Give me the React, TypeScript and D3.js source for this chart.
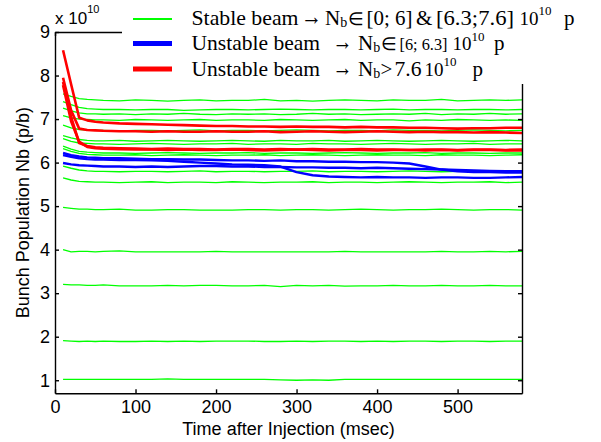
import { useEffect, useRef } from "react";
import * as d3 from "d3";

// sample times (msec after injection)
const times = [10, 20, 30, 40, 50, 60, 80, 100, 120, 140, 160, 180, 200, 220, 240, 260, 280, 300, 320, 340, 360, 380, 400, 420, 440, 460, 480, 500, 520, 540, 560, 580];

// stable beams (green), bunch population in 1e10 p
const stableRuns = [
  [7.58, 7.52, 7.47, 7.45, 7.44, 7.43, 7.42, 7.44, 7.43, 7.41, 7.43, 7.44, 7.42, 7.43, 7.43, 7.45, 7.42, 7.43, 7.41, 7.43, 7.44, 7.43, 7.42, 7.44, 7.43, 7.43, 7.45, 7.42, 7.43, 7.44, 7.43, 7.44],
  [7.40, 7.33, 7.27, 7.24, 7.23, 7.22, 7.22, 7.21, 7.22, 7.22, 7.20, 7.21, 7.22, 7.22, 7.21, 7.22, 7.23, 7.22, 7.21, 7.22, 7.22, 7.21, 7.22, 7.23, 7.21, 7.22, 7.22, 7.21, 7.22, 7.22, 7.21, 7.22],
  [7.25, 7.19, 7.14, 7.12, 7.12, 7.11, 7.12, 7.10, 7.12, 7.11, 7.13, 7.11, 7.10, 7.12, 7.11, 7.12, 7.10, 7.11, 7.13, 7.11, 7.12, 7.10, 7.11, 7.12, 7.11, 7.13, 7.10, 7.12, 7.11, 7.13, 7.11, 7.12],
  [7.08, 7.03, 7.00, 6.99, 6.98, 6.98, 6.97, 6.99, 6.98, 6.97, 6.98, 6.99, 6.97, 6.98, 6.98, 6.97, 6.99, 6.98, 6.97, 6.98, 6.99, 6.97, 6.98, 6.98, 6.96, 6.98, 6.97, 6.99, 6.98, 6.97, 6.98, 6.97],
  [6.86, 6.80, 6.76, 6.75, 6.74, 6.74, 6.73, 6.74, 6.74, 6.73, 6.74, 6.75, 6.73, 6.74, 6.74, 6.73, 6.74, 6.75, 6.74, 6.73, 6.74, 6.74, 6.73, 6.75, 6.74, 6.74, 6.73, 6.74, 6.75, 6.74, 6.73, 6.74],
  [6.62, 6.57, 6.53, 6.51, 6.50, 6.50, 6.51, 6.49, 6.50, 6.51, 6.50, 6.49, 6.50, 6.51, 6.50, 6.49, 6.51, 6.50, 6.50, 6.51, 6.49, 6.50, 6.51, 6.50, 6.49, 6.50, 6.51, 6.50, 6.49, 6.50, 6.51, 6.50],
  [6.55, 6.49, 6.45, 6.44, 6.43, 6.43, 6.42, 6.43, 6.44, 6.43, 6.42, 6.43, 6.43, 6.44, 6.42, 6.43, 6.43, 6.42, 6.44, 6.43, 6.43, 6.42, 6.43, 6.44, 6.43, 6.42, 6.43, 6.43, 6.44, 6.42, 6.43, 6.43],
  [6.38, 6.31, 6.26, 6.24, 6.23, 6.22, 6.22, 6.21, 6.22, 6.23, 6.22, 6.21, 6.22, 6.22, 6.23, 6.21, 6.22, 6.22, 6.21, 6.22, 6.23, 6.22, 6.21, 6.22, 6.22, 6.23, 6.21, 6.22, 6.22, 6.21, 6.22, 6.22],
  [6.32, 6.26, 6.21, 6.19, 6.18, 6.17, 6.17, 6.18, 6.16, 6.17, 6.18, 6.17, 6.16, 6.17, 6.17, 6.18, 6.16, 6.17, 6.18, 6.17, 6.16, 6.17, 6.18, 6.17, 6.17, 6.16, 6.18, 6.17, 6.17, 6.16, 6.17, 6.18],
  [5.92, 5.87, 5.83, 5.81, 5.80, 5.80, 5.79, 5.80, 5.80, 5.79, 5.80, 5.81, 5.79, 5.80, 5.80, 5.79, 5.80, 5.80, 5.81, 5.79, 5.80, 5.80, 5.79, 5.80, 5.81, 5.80, 5.79, 5.80, 5.80, 5.79, 5.80, 5.80],
  [5.65, 5.60, 5.57, 5.56, 5.55, 5.55, 5.54, 5.55, 5.56, 5.54, 5.55, 5.55, 5.54, 5.56, 5.55, 5.54, 5.55, 5.55, 5.56, 5.54, 5.55, 5.55, 5.54, 5.55, 5.56, 5.55, 5.54, 5.55, 5.55, 5.56, 5.54, 5.55],
  [4.97, 4.95, 4.93, 4.93, 4.92, 4.92, 4.93, 4.91, 4.91, 4.92, 4.92, 4.91, 4.91, 4.91, 4.92, 4.92, 4.91, 4.92, 4.92, 4.91, 4.92, 4.93, 4.92, 4.91, 4.92, 4.92, 4.93, 4.92, 4.91, 4.92, 4.92, 4.91],
  [4.00, 3.95, 3.96, 3.96, 3.95, 3.96, 3.97, 3.95, 3.95, 3.95, 3.95, 3.95, 3.96, 3.95, 3.95, 3.95, 3.95, 3.95, 3.95, 3.95, 3.96, 3.95, 3.95, 3.95, 3.95, 3.95, 3.96, 3.95, 3.95, 3.96, 3.95, 3.96],
  [3.20, 3.19, 3.19, 3.18, 3.18, 3.19, 3.17, 3.17, 3.17, 3.18, 3.17, 3.18, 3.18, 3.17, 3.17, 3.18, 3.15, 3.18, 3.17, 3.18, 3.16, 3.17, 3.17, 3.18, 3.17, 3.17, 3.18, 3.17, 3.17, 3.18, 3.17, 3.17],
  [1.91, 1.90, 1.89, 1.90, 1.89, 1.90, 1.89, 1.89, 1.90, 1.89, 1.90, 1.89, 1.90, 1.90, 1.90, 1.89, 1.89, 1.90, 1.89, 1.90, 1.90, 1.89, 1.90, 1.89, 1.90, 1.90, 1.89, 1.90, 1.90, 1.89, 1.90, 1.90],
  [1.02, 1.02, 1.02, 1.02, 1.02, 1.02, 1.02, 1.02, 1.02, 1.03, 1.02, 1.02, 1.02, 1.02, 1.02, 1.02, 1.01, 1.00, 1.01, 1.00, 1.02, 1.02, 1.02, 1.02, 1.02, 1.02, 1.02, 1.02, 1.02, 1.02, 1.02, 1.02],
];

// unstable beams, Nb in [6; 6.3] (blue)
const unstableRuns = [
  [6.22, 6.17, 6.14, 6.12, 6.11, 6.10, 6.10, 6.09, 6.08, 6.08, 6.07, 6.07, 6.06, 6.05, 6.05, 6.04, 6.05, 6.03, 6.03, 6.02, 6.02, 6.01, 6.01, 6.00, 5.98, 5.91, 5.84, 5.80, 5.78, 5.78, 5.77, 5.77],
  [6.17, 6.13, 6.10, 6.08, 6.07, 6.07, 6.06, 6.06, 6.05, 6.04, 6.02, 6.00, 5.98, 5.96, 5.95, 5.94, 5.91, 5.78, 5.71, 5.68, 5.67, 5.66, 5.67, 5.66, 5.66, 5.65, 5.66, 5.66, 5.65, 5.65, 5.66, 5.67],
  [5.99, 5.96, 5.94, 5.93, 5.92, 5.91, 5.91, 5.90, 5.91, 5.90, 5.91, 5.92, 5.92, 5.91, 5.91, 5.90, 5.90, 5.89, 5.89, 5.88, 5.88, 5.87, 5.88, 5.87, 5.86, 5.85, 5.84, 5.83, 5.82, 5.81, 5.80, 5.80],
];

// unstable beams, Nb > 7.6 (red)
const highRuns = [
  [8.58, 7.80, 7.03, 6.97, 6.94, 6.92, 6.90, 6.89, 6.88, 6.87, 6.86, 6.85, 6.84, 6.84, 6.83, 6.83, 6.82, 6.83, 6.82, 6.82, 6.81, 6.82, 6.81, 6.81, 6.80, 6.80, 6.79, 6.78, 6.79, 6.79, 6.80, 6.80],
  [7.95, 7.20, 6.78, 6.75, 6.74, 6.73, 6.72, 6.72, 6.71, 6.72, 6.71, 6.71, 6.72, 6.71, 6.71, 6.72, 6.70, 6.71, 6.72, 6.71, 6.70, 6.71, 6.72, 6.71, 6.70, 6.71, 6.70, 6.70, 6.69, 6.70, 6.69, 6.68],
  [7.85, 7.05, 6.45, 6.38, 6.35, 6.34, 6.33, 6.32, 6.31, 6.32, 6.31, 6.31, 6.30, 6.31, 6.31, 6.30, 6.31, 6.30, 6.31, 6.30, 6.30, 6.31, 6.30, 6.30, 6.29, 6.30, 6.30, 6.29, 6.30, 6.30, 6.29, 6.30],
  [7.78, 6.95, 6.48, 6.36, 6.33, 6.32, 6.31, 6.30, 6.30, 6.29, 6.30, 6.29, 6.29, 6.30, 6.29, 6.28, 6.29, 6.30, 6.29, 6.28, 6.29, 6.29, 6.28, 6.29, 6.29, 6.28, 6.29, 6.28, 6.29, 6.29, 6.28, 6.28],
];

const xTicks = [0, 100, 200, 300, 400, 500];
const yTicks = [1, 2, 3, 4, 5, 6, 7, 8, 9];

const sansFont = "'Liberation Sans', Arial, Helvetica, sans-serif";
const serifFont = "'Liberation Serif', 'Times New Roman', serif";

const App = () => {
  const svgRef = useRef<SVGSVGElement>(null);

  const margin = { top: 32, right: 79, bottom: 48.7, left: 55 },
    width = 601 - margin.left - margin.right,
    height = 442 - margin.top - margin.bottom;

  useEffect(() => {
    const svg = d3.select(svgRef.current);
    svg.selectAll("*").remove();

    const x = d3.scaleLinear().domain([0, 580]).range([margin.left, margin.left + width]);
    const y = d3.scaleLinear().domain([0.7, 9]).range([margin.top + height, margin.top]);

    const line = d3
      .line<number>()
      .x((d, i) => x(times[i]))
      .y((d) => y(d));

    const drawRuns = (runs: number[][], color: string, w: number) => {
      svg
        .append("g")
        .selectAll("path")
        .data(runs)
        .enter()
        .append("path")
        .attr("d", (d) => line(d))
        .attr("fill", "none")
        .attr("stroke", color)
        .attr("stroke-width", w)
        .attr("stroke-linejoin", "round");
    };

    drawRuns(stableRuns, "#00ff00", 1.3);
    drawRuns(unstableRuns, "#0000ff", 2.4);
    drawRuns(highRuns, "#ff0000", 2.6);

    // box with inward ticks
    const styleAxis = (g) => {
      g.selectAll("path, line").attr("stroke", "#000").attr("stroke-width", 1.4);
      g.selectAll("text").attr("font-size", 18).attr("font-family", sansFont).attr("fill", "#000");
    };

    svg
      .append("g")
      .attr("transform", "translate(0," + (margin.top + height) + ")")
      .call(d3.axisBottom(x).tickValues(xTicks).tickSize(-4).tickSizeOuter(0).tickPadding(7))
      .call(styleAxis);

    svg
      .append("g")
      .attr("transform", "translate(" + margin.left + ",0)")
      .call(d3.axisLeft(y).tickValues(yTicks).tickSize(-4).tickSizeOuter(0).tickPadding(5))
      .call(styleAxis);

    svg
      .append("g")
      .attr("transform", "translate(" + (margin.left + width) + ",0)")
      .call(d3.axisRight(y).tickValues(yTicks).tickSize(-4).tickSizeOuter(0).tickFormat(() => ""))
      .call(styleAxis);

    svg
      .append("g")
      .attr("transform", "translate(0," + margin.top + ")")
      .call(d3.axisTop(x).tickValues(xTicks).tickSize(-4).tickSizeOuter(0).tickFormat(() => ""))
      .call(styleAxis);

    // exponent
    const expo = svg
      .append("text")
      .attr("x", 55)
      .attr("y", 24)
      .attr("font-family", sansFont)
      .attr("font-size", 17)
      .text("x 10");
    expo.append("tspan").attr("font-size", 11).attr("dy", -11).text("10");

    // axis titles
    svg
      .append("text")
      .attr("x", margin.left + width / 2)
      .attr("y", 435)
      .attr("text-anchor", "middle")
      .attr("font-family", sansFont)
      .attr("font-size", 18)
      .text("Time after Injection (msec)");

    svg
      .append("text")
      .attr("transform", "translate(29," + (margin.top + height / 2) + ") rotate(-90)")
      .attr("text-anchor", "middle")
      .attr("font-family", sansFont)
      .attr("font-size", 18)
      .text("Bunch Population Nb (p/b)");

    // legend
    const legend = svg.append("g");
    legend.append("rect").attr("x", 122).attr("y", -2).attr("width", 490).attr("height", 86).attr("fill", "#fff");

    // [text, x, fitted width (0 = natural), kind, font size]
    // kind "Nb" = N with subscript b, "exp" = 10 with superscript 10
    const items = [
      {
        color: "#00ff00",
        w: 2,
        ly: 19,
        base: 24.5,
        parts: [
          ["Stable beam", 191.5, 107, "", 21],
          ["\u2192", 301, 21, "", 25],
          ["N", 325, 0, "Nb", 21],
          ["\u2208", 348, 0, "", 18],
          ["[0; 6]", 366.5, 46, "", 21],
          ["&", 416, 0, "", 21],
          ["[6.3;7.6]", 436, 78, "", 21],
          ["10", 519.5, 0, "exp", 19],
          ["p", 564, 0, "", 21],
        ],
      },
      {
        color: "#0000ff",
        w: 5,
        ly: 43.5,
        base: 50,
        parts: [
          ["Unstable beam", 191.5, 128.5, "", 21],
          ["\u2192", 332.5, 20, "", 25],
          ["N", 358, 0, "Nb", 21],
          ["\u2208", 381, 0, "", 18],
          ["[6; 6.3]", 399.5, 48, "", 17],
          ["10", 452.5, 0, "exp", 19],
          ["p", 494, 0, "", 21],
        ],
      },
      {
        color: "#ff0000",
        w: 5,
        ly: 69,
        base: 75.5,
        parts: [
          ["Unstable beam", 191.5, 128.5, "", 21],
          ["\u2192", 332.5, 20, "", 25],
          ["N", 358, 0, "Nb", 21],
          [">", 380.5, 0, "", 21],
          ["7.6", 394.5, 27, "", 21],
          ["10", 424.5, 0, "exp", 19],
          ["p", 472.5, 0, "", 21],
        ],
      },
    ];

    items.forEach((it) => {
      legend
        .append("line")
        .attr("x1", 133)
        .attr("x2", 172)
        .attr("y1", it.ly)
        .attr("y2", it.ly)
        .attr("stroke", it.color)
        .attr("stroke-width", it.w);

      const texts = legend
        .selectAll(null)
        .data(it.parts)
        .enter()
        .append("text")
        .attr("x", (d) => d[1])
        .attr("y", it.base)
        .attr("font-family", serifFont)
        .attr("font-size", (d) => d[4])
        .attr("fill", "#000")
        .text((d) => d[0]);

      texts
        .filter((d) => d[2] > 0)
        .attr("textLength", (d) => d[2])
        .attr("lengthAdjust", "spacingAndGlyphs");

      texts
        .filter((d) => d[3] === "Nb")
        .append("tspan")
        .attr("font-size", 14)
        .attr("dy", 2)
        .text("b");

      texts
        .filter((d) => d[3] === "exp")
        .append("tspan")
        .attr("font-size", 13)
        .attr("dy", -9.5)
        .text("10");
    });
  }, []);

  return (
    <div style={{ position: "absolute", left: 0, top: 0 }}>
      <svg ref={svgRef} width={601} height={442} style={{ display: "block", background: "#fff" }} />
    </div>
  );
};

export default App;
